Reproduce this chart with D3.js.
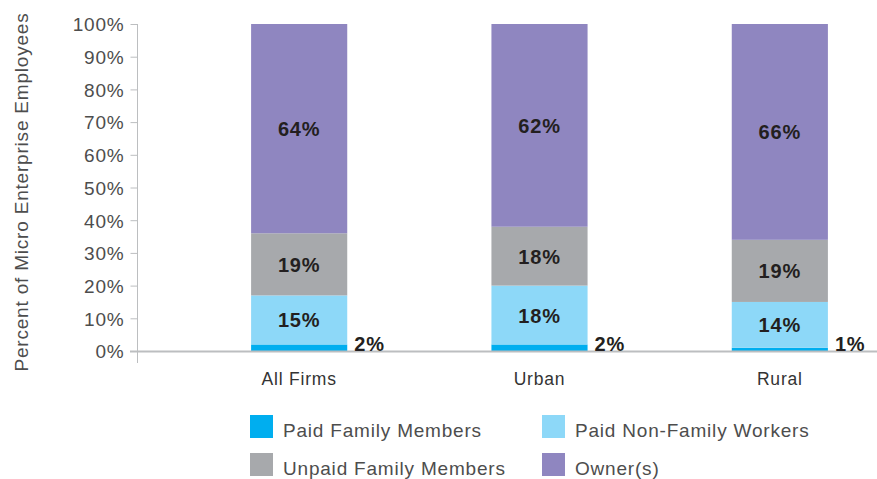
<!DOCTYPE html>
<html>
<head>
<meta charset="utf-8">
<script src="https://cdn.jsdelivr.net/npm/d3@7"></script>
<style>
  html, body { margin: 0; padding: 0; background: #fff; }
  svg { display: block; font-family: "Liberation Sans", Arial, Helvetica, sans-serif; }
</style>
</head>
<body>
<svg id="chart" width="877" height="479"></svg>
<script>
// Employee composition of micro enterprises, in percent of employees
const categories = ["All Firms", "Urban", "Rural"];
const seriesNames = ["Paid Family Members", "Paid Non-Family Workers", "Unpaid Family Members", "Owner(s)"];
const paidFamily    = [2, 2, 1];
const paidNonFamily = [15, 18, 14];
const unpaidFamily  = [19, 18, 19];
const owners        = [64, 62, 66];
const yTicks = [0, 10, 20, 30, 40, 50, 60, 70, 80, 90, 100];
const colors = ["#00aeef", "#8dd8f8", "#a7a9ac", "#8f86c0"];

const rows = categories.map((c, i) => ({
  category: c,
  [seriesNames[0]]: paidFamily[i],
  [seriesNames[1]]: paidNonFamily[i],
  [seriesNames[2]]: unpaidFamily[i],
  [seriesNames[3]]: owners[i]
}));

const svg = d3.select("#chart");
const axisColor = "#bcbec0";
const textColor = "#4d4d4d";

const y = d3.scaleLinear().domain([0, 100]).range([351, 24]);
const x = d3.scaleBand().domain(categories).range([179, 900]).paddingInner(0.6).paddingOuter(0.3);

const layers = d3.stack().keys(seriesNames)(rows);

// Stacked segments
const g = svg.append("g");
layers.forEach((layer, li) => {
  g.selectAll(null)
    .data(layer)
    .join("rect")
    .attr("x", d => x(d.data.category))
    .attr("width", x.bandwidth())
    .attr("y", d => y(d[1]))
    .attr("height", d => y(d[0]) - y(d[1]))
    .attr("fill", colors[li]);
});

// Baseline and y axis
svg.append("line")
  .attr("x1", 130).attr("x2", 877)
  .attr("y1", y(0) + 0.5).attr("y2", y(0) + 0.5)
  .attr("stroke", axisColor).attr("stroke-width", 2);
svg.append("line")
  .attr("x1", 137.5).attr("x2", 137.5)
  .attr("y1", y(100)).attr("y2", 363)
  .attr("stroke", axisColor).attr("stroke-width", 1);

const yAxis = d3.axisLeft(y).tickValues(yTicks).tickFormat(d => d + "%").tickSize(7).tickPadding(6);
const ya = svg.append("g").attr("transform", "translate(137.5,0)").call(yAxis);
ya.select(".domain").remove();
ya.selectAll(".tick line").attr("stroke", axisColor);
ya.selectAll(".tick text")
  .attr("fill", textColor)
  .attr("dy", "0.36em")
  .style("font-size", "19px")
  .style("letter-spacing", "0.8px");

// Axis title
svg.append("text")
  .attr("transform", "translate(28,192) rotate(-90)")
  .attr("text-anchor", "middle")
  .attr("fill", textColor)
  .style("font-size", "19px")
  .style("letter-spacing", "0.8px")
  .text("Percent of Micro Enterprise Employees");

// Category labels
svg.selectAll(null)
  .data(categories)
  .join("text")
  .attr("x", d => x(d) + x.bandwidth() / 2)
  .attr("y", 385)
  .attr("text-anchor", "middle")
  .attr("fill", "#333")
  .style("font-size", "17.5px")
  .style("letter-spacing", "0.8px")
  .text(d => d);

// Segment value labels (inside for larger segments)
layers.forEach((layer, li) => {
  if (li === 0) return;
  svg.selectAll(null)
    .data(layer)
    .join("text")
    .attr("x", d => x(d.data.category) + x.bandwidth() / 2)
    .attr("y", d => y((d[0] + d[1]) / 2) + 7.5)
    .attr("text-anchor", "middle")
    .attr("fill", "#231f20")
    .style("font-size", "20px")
    .style("font-weight", "bold")
    .style("letter-spacing", "0.8px")
    .text(d => (d[1] - d[0]) + "%");
});

// Paid family member values sit beside the bar
svg.selectAll(null)
  .data(layers[0])
  .join("text")
  .attr("x", d => x(d.data.category) + x.bandwidth() + 7)
  .attr("y", y(0) - 0.5)
  .attr("fill", "#231f20")
  .style("font-size", "20px")
  .style("font-weight", "bold")
  .style("letter-spacing", "0.8px")
  .text(d => (d[1] - d[0]) + "%");

// Legend
const legendPos = [[250, 415], [542, 415], [250, 453], [542, 453]];
const legend = svg.append("g");
seriesNames.forEach((name, i) => {
  const [lx, ly] = legendPos[i];
  legend.append("rect")
    .attr("x", lx).attr("y", ly)
    .attr("width", 23).attr("height", 23)
    .attr("fill", colors[i]);
  legend.append("text")
    .attr("x", lx + 33).attr("y", ly + 22)
    .attr("fill", textColor)
    .style("font-size", "19px")
    .style("letter-spacing", "0.8px")
    .text(name);
});
</script>
</body>
</html>
